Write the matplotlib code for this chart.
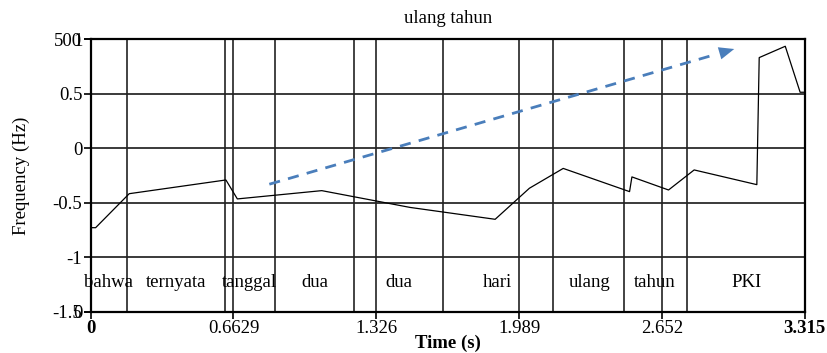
import matplotlib.pyplot as plt
import numpy as np

# pitch contour (time in s, normalised frequency)
times = [0.005, 0.023, 0.179, 0.628, 0.681, 1.073, 1.483, 1.878, 2.037, 2.194,
         2.502, 2.513, 2.683, 2.802, 3.093, 3.104, 3.225, 3.294, 3.315]
freqs = [-0.729, -0.729, -0.417, -0.291, -0.465, -0.389, -0.543, -0.652, -0.367, -0.185,
         -0.398, -0.263, -0.383, -0.199, -0.334, 0.832, 0.936, 0.514, 0.514]

# word boundaries from the textgrid
bounds = [0.1686, 0.625, 0.857, 1.2215, 1.638, 2.147, 2.477, 2.770]
words = ['bahwa', 'ternyata', 'tanggal', 'dua', 'dua', 'hari', 'ulang', 'tahun', 'PKI']
word_t = [0.085, 0.396, 0.738, 1.040, 1.430, 1.889, 2.315, 2.621, 3.044]

xticks = [0, 0.6629, 1.326, 1.989, 2.652, 3.315]
xlabels = ['0', '0.6629', '1.326', '1.989', '2.652', '3.315']
yticks = [-1.5, -1, -0.5, 0, 0.5, 1]
ylabels = ['-1.5', '-1', '-0.5', '0', '0.5', '1']

trend_start = (0.8295, -0.330)
trend_end = (3.0005, 0.918)

plt.rcParams['font.family'] = ['Liberation Serif', 'DejaVu Serif']
fs = 13.5

fig = plt.figure(figsize=(8.28, 3.53), dpi=100)
ax = fig.add_axes([0.1095, 0.117, 0.8623, 0.7717])
ax.set_xlim(0, 3.315)
ax.set_ylim(-1.5, 1)

# horizontal grid
for y in yticks[1:-1]:
    ax.axhline(y, color='#3a3a3a', lw=1.4, zorder=1)
# vertical grid at ticks + word boundaries
for x in xticks[1:-1] + bounds:
    ax.axvline(x, color='#222222', lw=1.2, zorder=1)

ax.plot(times, freqs, color='black', lw=0.9, zorder=3)

# dashed trend arrow
col = '#4a7ebb'
dx = trend_end[0] - trend_start[0]
dy = trend_end[1] - trend_start[1]
frac = 0.955
ax.plot([trend_start[0], trend_start[0] + dx * frac], [trend_start[1], trend_start[1] + dy * frac],
        color=col, lw=2, ls=(0, (4, 3)), zorder=4)
ax.annotate('', xy=trend_end, xytext=(trend_start[0] + dx * 0.93, trend_start[1] + dy * 0.93),
            arrowprops=dict(arrowstyle='-|>,head_length=1.1,head_width=0.45', color=col, lw=0),
            zorder=4)

for w, t in zip(words, word_t):
    ax.text(t, -1.235, w, ha='center', va='center', fontsize=fs, zorder=5)

ax.set_xticks(xticks)
ax.set_xticklabels(xlabels, fontsize=fs)
for i in (0, len(xticks) - 1):
    ax.get_xticklabels()[i].set_fontweight('bold')
ax.set_yticks(yticks)
ax.set_yticklabels(ylabels, fontsize=fs)
ax.tick_params(direction='out', length=5, width=1.2, pad=1)

for s in ax.spines.values():
    s.set_linewidth(1.6)
    s.set_zorder(6)

# second frequency scale sharing the left side
ax2 = ax.twinx()
ax2.set_ylim(0, 500)
ax2.set_yticks([0, 500])
ax2.set_yticklabels(['0', '500'], fontsize=fs)
ax2.yaxis.tick_left()
ax2.tick_params(direction='out', length=5, width=1.2, pad=1)
for s in ax2.spines.values():
    s.set_visible(False)

ax.set_title('ulang tahun', fontsize=fs, pad=12)
ax.set_xlabel('Time (s)', fontsize=fs, fontweight='bold', labelpad=-2)
ax.set_ylabel('Frequency (Hz)', fontsize=fs, labelpad=16)

fig.savefig('out.png', dpi=100)
